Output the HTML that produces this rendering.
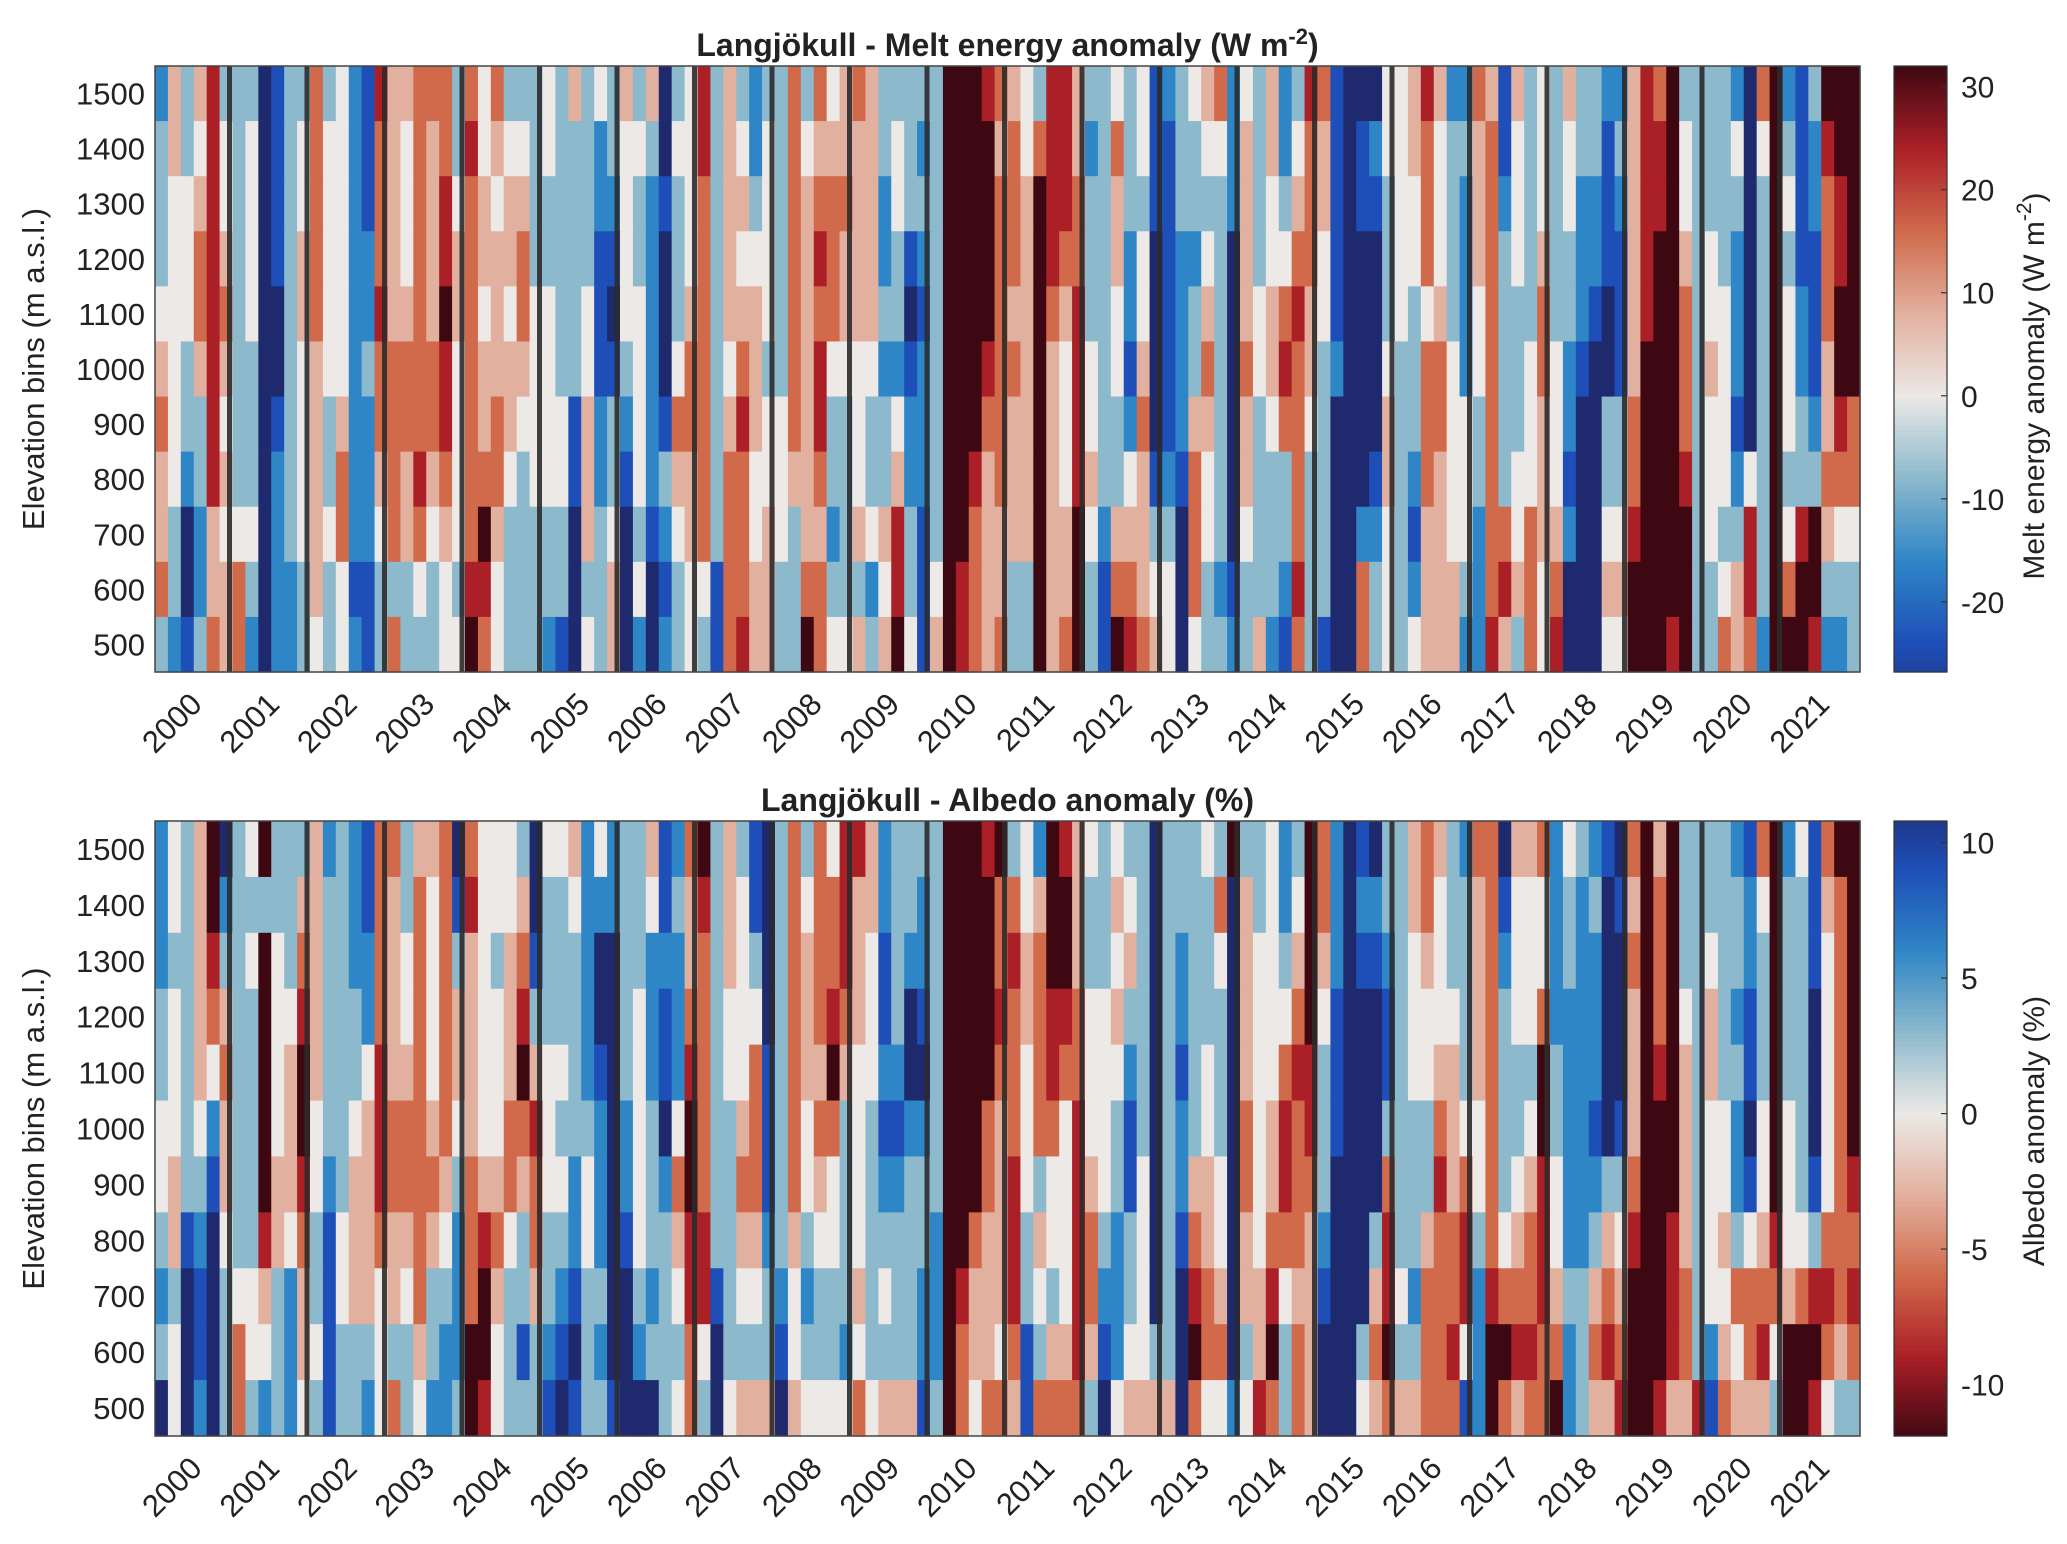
<!DOCTYPE html>
<html>
<head>
<meta charset="utf-8">
<style>
  html, body { margin: 0; padding: 0; background: #ffffff; }
  svg { display: block; font-family: "Liberation Sans", Arial, sans-serif; }
</style>
</head>
<body>
<svg id="fig" xmlns="http://www.w3.org/2000/svg" width="2067" height="1544" viewBox="0 0 2067 1544"></svg>
<script>
// ---------- DATA ----------
const years = ["2000","2001","2002","2003","2004","2005","2006","2007","2008","2009","2010","2011","2012","2013","2014","2015","2016","2017","2018","2019","2020","2021"];
const elevationBins = [1500,1400,1300,1200,1100,1000,900,800,700,600,500];
const meltTicks = [30,20,10,0,-10,-20];
const albedoTicks = [10,5,0,-5,-10];
// Per-row anomaly class (0..8, 4 = zero), six sub-periods per year, rows from 1500 m down to 500 m
const meltRows = [
"253573 330133 634217 556663 646333 435343 535034 735323 363645 653333 388876 543775 334341 234562 435237 610004 457522 651534 353322 576833 332068 213888",
"353474 340134 644216 546563 745443 433323 443044 735424 364555 553432 388885 646775 236341 133442 535246 510124 456433 561434 343313 577843 334048 312788",
"344574 340134 644216 546574 654553 333322 432134 635534 365666 552433 388886 658776 335331 133332 534356 510113 446432 562434 342212 577843 333038 412678",
"344675 340135 644226 546575 655563 333311 432034 635444 365765 552312 388886 658766 335240 122430 534466 410003 446432 563435 332211 578853 432038 311678",
"444676 340035 644227 556585 645464 433410 442035 635554 365665 553301 388886 558657 334240 123530 545675 410003 434532 463336 332101 578863 442038 421688",
"543575 330034 544236 666674 655554 433411 342046 634653 365744 442212 388876 658547 434150 123630 645765 320004 336642 463346 421001 588863 542038 421588",
"643374 330134 535226 666674 656544 441523 242166 635754 465733 433422 388866 558547 433260 125530 534664 300005 336644 363345 420033 688863 441038 432576",
"542375 330234 536225 657564 666434 441523 142355 636644 455633 433522 388756 558547 533451 216430 533363 300015 326544 363445 410033 688873 442438 333666",
"530254 440234 546224 656454 685333 330534 031245 636645 435523 545731 388655 558558 425553 306430 433363 300224 315544 266465 520044 788883 433738 478544",
"630255 630223 534113 334343 774333 330335 040134 416655 336633 324731 487655 338558 316654 406321 333273 300634 325553 267564 600055 888883 345738 688333",
"321365 620223 434213 633344 864333 210435 020234 316755 338644 535841 587656 338568 318765 404332 352163 100634 345552 275364 700044 888783 365628 887223"
];
const albedoRows = [
"243580 348333 523216 635560 644430 445242 335126 835310 363647 752333 388878 342875 434330 333438 334238 620103 356532 660556 243210 685833 332168 241688",
"243582 333335 533216 536461 744450 334222 334135 735410 364667 552332 388886 645885 335430 333360 534248 620223 356433 561444 232301 586833 333248 331568",
"233573 348436 533226 546463 543561 333200 332225 635430 365667 541322 388886 756885 334530 323340 544358 520112 345433 562444 232200 686833 433238 331468",
"343565 338447 533326 546465 544573 333200 342126 634440 365676 541301 388887 656776 445330 323330 544468 410001 344443 563446 222200 586843 532138 330468",
"343546 338458 533347 556465 544585 443210 342127 634461 365585 442200 388886 646766 444230 313430 544677 310001 344553 563338 322200 587853 533138 330468",
"443425 338458 433457 666564 544667 433320 243048 633561 364663 431122 388865 646647 443130 323430 645767 310003 333654 463348 322101 588853 442048 430468",
"453315 338557 423557 666653 655656 442420 243268 633661 364543 432233 388865 743447 543140 325540 645766 300006 333756 463457 422233 688853 442148 431467",
"351204 337546 314556 556542 676436 332420 143357 733552 353443 433333 288655 735447 632340 316540 546665 200037 335667 364567 422354 788753 453457 443666",
"230103 445325 314554 546332 685335 321330 032347 713443 242333 534332 287555 734347 622340 307650 557455 100057 426667 276667 533565 888763 446666 567767",
"340103 644325 413334 335322 884313 210320 023336 403333 143332 433332 286554 613557 512443 308660 358365 000368 336674 288776 623676 888763 254674 888656",
"040203 632324 313324 634223 874333 101331 000346 304555 054444 645551 386466 516666 304555 506442 476365 000456 556661 286566 823557 887557 165553 887433"
];
const meltStep = 8;     // W m-2 per class
const albedoStep = 3;   // % per class (blue = positive)

// ---------- HELPERS ----------
const NS = "http://www.w3.org/2000/svg";
const svg = document.getElementById("fig");
function mk(tag, attrs, parent) {
  const e = document.createElementNS(NS, tag);
  for (const k in attrs) e.setAttribute(k, attrs[k]);
  (parent || svg).appendChild(e);
  return e;
}
const palette = ["#1f2a6e","#1e4fb8","#2f86c6","#8cb9cc","#ece9e6","#e2b09f","#d06a4b","#ab1f27","#3e0812"];
function hex2rgb(h){ return [parseInt(h.slice(1,3),16),parseInt(h.slice(3,5),16),parseInt(h.slice(5,7),16)]; }
const palRGB = palette.map(hex2rgb);
function balance(s) { // s in [-1,1]
  s = Math.max(-1, Math.min(1, s));
  const t = (s + 1) / 2 * 8;
  const i = Math.min(7, Math.floor(t));
  const f = t - i;
  const a = palRGB[i], b = palRGB[i+1];
  return "rgb(" + a.map((v,k)=>Math.round(v + (b[k]-v)*f)).join(",") + ")";
}
function decode(rows, fn) { return rows.map(r => r.replace(/ /g,"").split("").map(c => fn(+c))); }
const meltValues = decode(meltRows, c => (c - 4) * meltStep);
const albedoValues = decode(albedoRows, c => (4 - c) * albedoStep);

// ---------- PANEL ----------
const X0 = 155, X1 = 1860;
const nSub = 6;
function drawPanel(cfg) {
  const g = mk("g", {});
  
  
  const {y0, y1, values, colorOf} = cfg;
  const yearW = (X1 - X0) / years.length;
  const colW = yearW / nSub;
  const rowH = (y1 - y0) / elevationBins.length;
  const xScale = (yi, sub) => X0 + yi * yearW + sub * colW;
  const yScale = ri => y0 + ri * rowH;
  values.forEach((row, ri) => {
    row.forEach((v, ci) => {
      const yi = Math.floor(ci / nSub), sub = ci % nSub;
      const r = mk("rect", {x: xScale(yi, sub).toFixed(2), y: yScale(ri).toFixed(2), width: (colW + 0.6).toFixed(2), height: (rowH + 0.6).toFixed(2), fill: colorOf(v)}, g);
      
      
    });
  });
  // year separators
  for (let k = 1; k < years.length; k++) {
    const x = X0 + k * yearW - 3;
    const s = mk("rect", {x: x - 2.5, y: y0, width: 5, height: y1 - y0, fill: "#2b2b2b", opacity: 0.9}, g);
    
    
  }
  // frame
  const fr = mk("rect", {x: X0, y: y0, width: X1 - X0, height: y1 - y0, fill: "none", stroke: "#444", "stroke-width": 1.5}, g);
  
  
  // y ticks
  elevationBins.forEach((b, ri) => {
    const t = mk("text", {x: X0 - 10, y: yScale(ri) + rowH/2 + 11, "text-anchor": "end", "font-size": 31, fill: "#222"}, g);
    t.textContent = b;
    
    
  });
  // x labels
  years.forEach((yr, yi) => {
    const cx = X0 + (yi + 0.5) * yearW;
    const ax = cx + 10, ay = y1 + 34;
    const t = mk("text", {x: ax, y: ay, "text-anchor": "end", "font-size": 31, fill: "#222", transform: `rotate(-45 ${ax} ${ay})`}, g);
    t.textContent = yr;
    
    
  });
  // y axis title
  const yc = (y0 + y1) / 2;
  const yt = mk("text", {x: 36, y: yc, "text-anchor": "middle", "font-size": 31, fill: "#222", transform: `rotate(-90 36 ${yc})`, "dominant-baseline": "middle"}, g);
  yt.textContent = "Elevation bins (m a.s.l.)";
  
  
  // title
  const tt = mk("text", {x: (X0 + X1)/2, y: y0 - 10, "text-anchor": "middle", "font-size": 32, "font-weight": "bold", fill: "#222"}, g);
  tt.innerHTML = cfg.titleHTML;
  
  
  // colorbar
  const CB0 = 1894, CB1 = 1947;
  const cbg = mk("g", {}, g);
  
  
  const cy = v => y0 + (cfg.cmax - v) / (cfg.cmax - cfg.cmin) * (y1 - y0);
  const N = 150;
  for (let i = 0; i < N; i++) {
    const v = cfg.cmax - (i + 0.5) / N * (cfg.cmax - cfg.cmin);
    mk("rect", {x: CB0, y: (y0 + i * (y1 - y0) / N).toFixed(2), width: CB1 - CB0, height: ((y1 - y0)/N + 0.6).toFixed(2), fill: colorOf(v)}, cbg);
  }
  mk("rect", {x: CB0, y: y0, width: CB1 - CB0, height: y1 - y0, fill: "none", stroke: "#333", "stroke-width": 1.2}, cbg);
  cfg.ticks.forEach(v => {
    const yy = cy(v);
    mk("line", {x1: CB1 - 6, x2: CB1, y1: yy, y2: yy, stroke: "#333", "stroke-width": 1.2}, cbg);
    const t = mk("text", {x: CB1 + 14, y: yy + 11, "font-size": 30, fill: "#222"}, cbg);
    t.textContent = v;
    
    
  });
  const lx = 2036, ly = cfg.labelY;
  const cl = mk("text", {x: lx, y: ly, "text-anchor": "middle", "font-size": 30, fill: "#222", transform: `rotate(-90 ${lx} ${ly})`, "dominant-baseline": "middle"}, cbg);
  cl.innerHTML = cfg.cbLabelHTML;
  
  
}

drawPanel({
  name: "melt-energy-panel", y0: 66, y1: 672, values: meltValues,
  colorOf: v => balance(v / 32), cmin: -26.8, cmax: 32.0, ticks: meltTicks, labelY: 386,
  titleHTML: 'Langjökull - Melt energy anomaly (W m<tspan dy="-12" font-size="22">-2</tspan><tspan dy="12">)</tspan>',
  cbLabelHTML: 'Melt energy anomaly (W m<tspan dy="-11" font-size="21">-2</tspan><tspan dy="11">)</tspan>'
});
drawPanel({
  name: "albedo-panel", y0: 821, y1: 1436, values: albedoValues,
  colorOf: v => balance(-v / 12), cmin: -11.9, cmax: 10.8, ticks: albedoTicks, labelY: 1131,
  titleHTML: 'Langjökull - Albedo anomaly (%)',
  cbLabelHTML: 'Albedo anomaly (%)'
});
</script>
</body>
</html>
